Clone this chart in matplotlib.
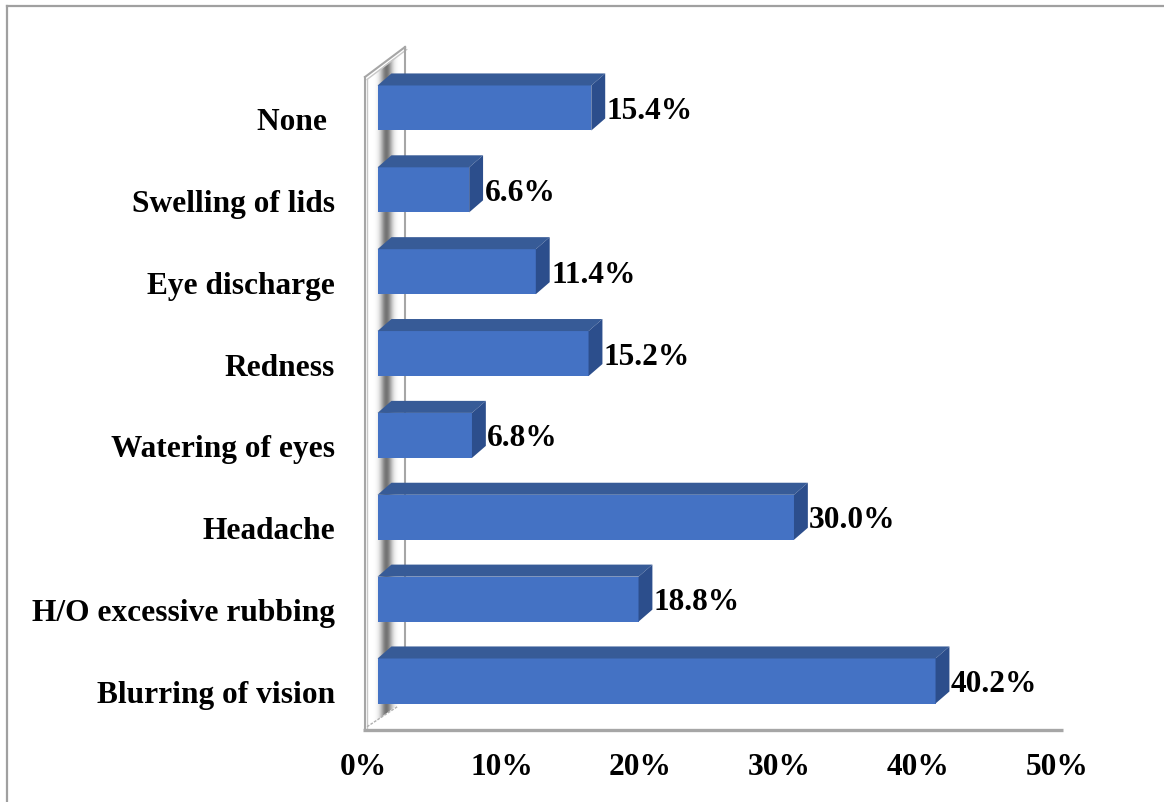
import numpy as np
import matplotlib.pyplot as plt
from matplotlib.patches import Polygon
from matplotlib.lines import Line2D

plt.rcParams['font.family'] = ['Liberation Serif', 'DejaVu Serif']
plt.rcParams['font.weight'] = 'bold'

# bottom to top
categories = ['Blurring of vision', 'H/O excessive rubbing', 'Headache',
              'Watering of eyes', 'Redness', 'Eye discharge',
              'Swelling of lids', 'None ']
values = [40.2, 18.8, 30.0, 6.8, 15.2, 11.4, 6.6, 15.4]
tick_values = [0, 10, 20, 30, 40, 50]
tick_labels = ['0%', '10%', '20%', '30%', '40%', '50%']

front_col = '#4472C4'
top_col = '#375B97'
side_col = '#2C4E8C'
wall_col = '#A6A6A6'
fs = 22.6

fig = plt.figure(figsize=(11.64, 8.03), dpi=100)
ax = fig.add_axes([363 / 1164, 72 / 803, 694 / 1164, 691 / 803])
ax.set_xlim(0, 50)
ax.set_ylim(-0.5986, 7.8427)
ax.axis('off')

# outer frame (only left and top edges are visible)
fig.add_artist(Line2D([0.006, 0.006], [0, 0.9913], transform=fig.transFigure,
                      color='#A0A0A0', lw=1.6))
fig.add_artist(Line2D([0.006, 1], [0.9913, 0.9913], transform=fig.transFigure,
                      color='#A0A0A0', lw=1.6))

# 3d geometry (data units)
x_front = 1.05      # bar front face starts here
bar_h = 0.55
ddx, ddy = 1.0, 0.147
y_floor = -0.5986
wall_x0, wall_x1 = 0.14, 3.03
wall_top0, wall_top1 = 7.378, 7.745

# side wall with soft shading
wall_poly = [(0.29, y_floor + 0.03), (0.29, wall_top0 - 0.03),
             (wall_x1, wall_top1 - 0.03), (wall_x1, y_floor + 0.37)]
xs = np.linspace(0.29, wall_x1, 200)
shade = np.exp(-((xs - 1.66) / 0.42) ** 2)
img = np.ones((2, len(xs), 4))
img[..., 0] = img[..., 1] = img[..., 2] = 0.35
img[..., 3] = shade * 0.85
im = ax.imshow(img, extent=[0.29, wall_x1, y_floor, wall_top1], aspect='auto',
               interpolation='bilinear', zorder=1)
clip = Polygon(wall_poly, closed=True, transform=ax.transData, facecolor='none',
               edgecolor='none')
ax.add_patch(clip)
im.set_clip_path(clip)

ax.plot([wall_x0, wall_x0], [y_floor, wall_top0], color=wall_col, lw=1.5, zorder=2)
ax.plot([0.29, 0.29], [y_floor, wall_top0 - 0.03], color='#C8C8C8', lw=1.0, zorder=2)
ax.plot([wall_x0, wall_x1], [wall_top0, wall_top1], color=wall_col, lw=1.5, zorder=2)
ax.plot([0.29, wall_x1 + 0.12], [wall_top0 - 0.03, wall_top1 - 0.03],
        color='#C8C8C8', lw=1.0, zorder=2)
ax.plot([wall_x1, wall_x1], [y_floor + 0.37, wall_top1], color=wall_col, lw=1.5, zorder=2)
ax.plot([0.29, 2.52], [y_floor + 0.04, y_floor + 0.29], color='#B0B0B0', lw=1.0,
        ls=(0, (2, 1)), zorder=2)

# floor front edge
ax.plot([0, 50.43], [y_floor, y_floor], color=wall_col, lw=2.4,
        solid_capstyle='butt', zorder=2, clip_on=False)

ypos = np.arange(len(categories))

# bar front faces
ax.barh(ypos, values, height=bar_h, left=x_front, color=front_col, zorder=3)

for y, v in zip(ypos, values):
    x1 = x_front + v
    yt, yb = y + bar_h / 2, y - bar_h / 2
    top = Polygon([(x_front, yt), (x1, yt), (x1 + ddx, yt + ddy),
                   (x_front + ddx, yt + ddy)], closed=True, facecolor=top_col,
                  edgecolor='none', zorder=3)
    side = Polygon([(x1, yb), (x1 + ddx, yb + ddy), (x1 + ddx, yt + ddy),
                    (x1, yt)], closed=True, facecolor=side_col,
                   edgecolor='none', zorder=3)
    ax.add_patch(top)
    ax.add_patch(side)
    ax.text(x1 + ddx + 0.1, y - 0.122, f'{v:.1f}%', fontsize=fs,
            fontweight='bold', ha='left', va='baseline', zorder=4)
    ax.text(-2.02, y - 0.2565, categories[y], fontsize=fs, fontweight='bold',
            ha='right', va='baseline', clip_on=False)

for t, lab in zip(tick_values, tick_labels):
    ax.text(t, -1.136, lab, fontsize=fs, fontweight='bold', ha='center',
            va='baseline', clip_on=False)

fig.savefig('out.png', dpi=100)
